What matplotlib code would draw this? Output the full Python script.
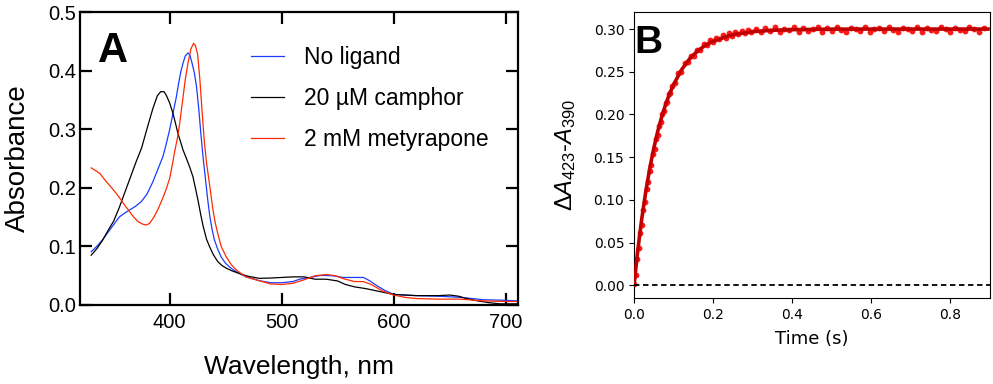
import numpy as np
import matplotlib
matplotlib.use("Agg")
import matplotlib.pyplot as plt

plt.rcParams['mathtext.fontset'] = 'custom'
plt.rcParams['mathtext.rm'] = 'Liberation Sans'
plt.rcParams['mathtext.it'] = 'Liberation Sans:italic'

# ---------------- Panel A data ----------------
wl_noligand = [330, 335, 340, 345, 350, 355, 360, 365, 370, 375, 380, 385, 390, 394, 397, 400,
               403, 406, 408, 410, 412, 414, 416.4, 418, 420, 422, 424, 426, 428, 430, 432, 434,
               436, 438, 440, 443, 446, 450, 455, 460, 465, 470, 480, 490, 500, 510, 516, 525,
               535, 545, 555, 565, 573, 578, 585, 592, 600, 620, 640, 660, 680, 700, 710]
abs_noligand = [.091, .100, .111, .124, .137, .150, .157, .163, .169, .177, .190, .210, .234, .253,
                .275, .299, .327, .355, .378, .398, .413, .425, .430, .427, .413, .397, .373, .335,
                .290, .250, .215, .180, .150, .128, .111, .095, .082, .071, .0626, .056, .051, .047,
                .0415, .038, .038, .040, .044, .047, .0505, .050, .047, .047, .047, .042, .033, .025,
                .018, .016, .015, .013, .009, .008, .007]

wl_camphor = [330, 335, 340, 345, 350, 355, 360, 365, 370, 375, 380, 385, 389, 392, 395, 397,
              400, 403, 405, 407.4, 410, 412, 415, 418, 420.8, 423, 425.3, 428, 430, 433, 435.7,
              439, 443, 447, 451, 456, 462, 470, 480, 490, 500, 510, 520, 530, 540, 550, 557,
              565, 575, 585, 595, 600, 620, 640, 650, 658, 665, 675, 685, 695, 710]
abs_camphor = [.085, .096, .110, .127, .143, .166, .192, .218, .244, .268, .302, .335, .357, .364,
               .364, .358, .345, .327, .312, .293, .277, .2645, .250, .235, .219, .200, .179, .152,
               .134, .112, .0995, .086, .074, .067, .0625, .058, .054, .049, .0455, .046, .047,
               .048, .048, .044, .044, .041, .035, .031, .028, .024, .020, .018, .016, .016, .017,
               .015, .011, .007, .004, .002, .002]

wl_metyrapone = [330, 335, 338, 342, 346, 350, 355, 360, 364, 368, 372, 376, 379, 382, 386, 390,
                 394, 397, 400, 402.5, 404.5, 407, 409, 412, 414, 416.3, 419, 421.4, 423, 425,
                 427, 429, 431, 433, 435.7, 438.7, 441, 443, 446, 450.6, 455, 460, 468, 480, 490,
                 500, 510, 520, 530, 540, 548, 555, 565, 573, 580, 590, 600, 610, 620, 640, 660,
                 680, 700, 710]
abs_metyrapone = [.234, .228, .224, .214, .205, .196, .184, .170, .160, .150, .142, .138, .1365,
                  .139, .150, .165, .183, .198, .216, .240, .262, .285, .310, .355, .385, .412,
                  .437, .4465, .443, .428, .385, .330, .278, .242, .205, .162, .138, .122, .100,
                  .082, .069, .059, .048, .0415, .036, .035, .037, .043, .050, .052, .050, .045,
                  .040, .040, .035, .024, .017, .013, .011, .010, .010, .007, .006, .006]

labels_A = ["No ligand", "20 \u00b5M camphor", "2 mM metyrapone"]
colors_A = ["#1a3cff", "#000000", "#ff2a00"]

# ---------------- Panel B data ----------------
t_early = np.round(np.arange(25) * 0.004, 3)
t_mid = np.round(0.104 + np.arange(25) * 0.008, 3)
t_late = np.round(0.308 + np.arange(49) * 0.012, 3)
time_data = np.concatenate([t_early, t_mid, t_late])
dA_data = [0.001, 0.012, 0.031, 0.044, 0.061, 0.071, 0.088, 0.097, 0.113, 0.121, 0.134, 0.141,
           0.154, 0.160, 0.171, 0.176, 0.187, 0.191, 0.201, 0.204, 0.213, 0.215, 0.224, 0.225,
           0.233,
           0.237, 0.248, 0.250, 0.260, 0.261, 0.269, 0.269, 0.276, 0.276, 0.282, 0.281, 0.287,
           0.285, 0.290, 0.288, 0.293, 0.290, 0.295, 0.292, 0.297, 0.294, 0.298, 0.295, 0.299,
           0.296,
           0.300, 0.297, 0.301, 0.298, 0.302, 0.297, 0.300, 0.299, 0.302, 0.297, 0.301, 0.298,
           0.300, 0.302, 0.297, 0.301, 0.298, 0.302, 0.299, 0.297, 0.301, 0.300, 0.298, 0.302,
           0.297, 0.300, 0.301, 0.298, 0.302, 0.299, 0.297, 0.301, 0.300, 0.298, 0.302, 0.297,
           0.301, 0.299, 0.298, 0.302, 0.300, 0.297, 0.301, 0.299, 0.298, 0.302, 0.300, 0.297,
           0.301]
time_fit = [0, 0.01, 0.02, 0.03, 0.04, 0.05, 0.06, 0.07, 0.08, 0.09, 0.10, 0.12, 0.14, 0.16,
            0.18, 0.20, 0.25, 0.30, 0.35, 0.40, 0.50, 0.60, 0.70, 0.80, 0.895]
dA_fit = [0.0, 0.0426, 0.0791, 0.1104, 0.1373, 0.1604, 0.1802, 0.1970, 0.2118, 0.2243, 0.2350,
          0.2522, 0.2648, 0.2741, 0.2809, 0.2859, 0.2935, 0.2970, 0.2986, 0.2993, 0.2999,
          0.3000, 0.3000, 0.3000, 0.3000]

# ---------------- Figure ----------------
fig = plt.figure(figsize=(9.93, 3.84), dpi=100)

# Panel A
axA = fig.add_axes([80 / 993, 79 / 384, 438 / 993, 293 / 384])
for wl, ab, lab, col in zip([wl_noligand, wl_camphor, wl_metyrapone],
                            [abs_noligand, abs_camphor, abs_metyrapone], labels_A, colors_A):
    axA.plot(wl, ab, color=col, lw=0.9, label=lab)
axA.set_xlim(320, 711)
axA.set_ylim(0, 0.5)
axA.set_xticks([400, 500, 600, 700])
axA.set_yticks([0.0, 0.1, 0.2, 0.3, 0.4, 0.5])
axA.set_yticklabels(["0.0", "0.1", "0.2", "0.3", "0.4", "0.5"])
for s in axA.spines.values():
    s.set_linewidth(1.6)
axA.tick_params(direction='in', length=8.5, width=1.6, top=True, right=True,
                labelsize=14.5, pad=6)
axA.tick_params(axis='y', pad=3)
for lbl in axA.get_xticklabels() + axA.get_yticklabels():
    lbl.set_fontfamily('Liberation Sans')
axA.set_xlabel("Wavelength, nm", fontsize=19, fontfamily='Liberation Sans', labelpad=16)
axA.set_ylabel("Absorbance", fontsize=20, fontfamily='Liberation Sans', labelpad=12)
leg = axA.legend(loc='upper left', bbox_to_anchor=(0.39, 0.885), frameon=False,
                 prop={'family': 'Liberation Sans', 'size': 16.5}, handlelength=1.45,
                 handletextpad=0.85, labelspacing=0.8, borderpad=0, borderaxespad=0)
axA.text(0.04, 0.829, "A", transform=axA.transAxes, fontsize=30, fontweight='bold',
         fontfamily='Liberation Sans', ha='left', va='baseline')

# Panel B
axB = fig.add_axes([634 / 993, 86 / 384, 356 / 993, 286 / 384])
axB.plot(time_data, dA_data, 'o', color='#ff1a1a', ms=4.2, mec='none', zorder=2)
axB.plot(time_fit, dA_fit, '-', color='#c00000', lw=2.6, zorder=3)
axB.axhline(0, color='black', lw=1.3, ls=(0, (3, 2)), zorder=4)
axB.set_xlim(0, 0.9)
axB.set_ylim(-0.015, 0.32)
axB.set_xticks([0.0, 0.2, 0.4, 0.6, 0.8])
axB.set_yticks([0.00, 0.05, 0.10, 0.15, 0.20, 0.25, 0.30])
axB.set_yticklabels(["0.00", "0.05", "0.10", "0.15", "0.20", "0.25", "0.30"])
axB.set_xticklabels(["0.0", "0.2", "0.4", "0.6", "0.8"])
axB.tick_params(labelsize=10)
axB.set_xlabel("Time (s)", fontsize=13, labelpad=6)
axB.set_ylabel(r"$\Delta\mathit{A}_{423}$-$\mathit{A}_{390}$", fontsize=17,
               fontfamily='Liberation Sans', labelpad=11)
axB.text(0.0, 0.857, "B", transform=axB.transAxes, fontsize=28, fontweight='bold',
         fontfamily='Liberation Sans', ha='left', va='baseline', zorder=5)

fig.savefig("out.png", dpi=100)
